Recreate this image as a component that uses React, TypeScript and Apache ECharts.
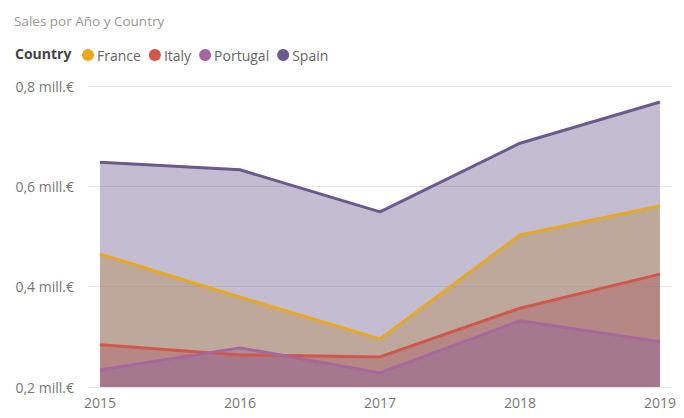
import React, { useEffect, useRef } from "react";
import * as echarts from "echarts";

const years = [2015, 2016, 2017, 2018, 2019];
const countries = ["France", "Italy", "Portugal", "Spain"];
const colors = ["#E8A820", "#D1574B", "#A8669E", "#6B5A8E"];
const france = [0.465, 0.379, 0.296, 0.503, 0.561];
const italy = [0.284, 0.264, 0.26, 0.357, 0.425];
const portugal = [0.234, 0.278, 0.228, 0.332, 0.29];
const spain = [0.648, 0.633, 0.549, 0.686, 0.768];
const seriesValues = [france, italy, portugal, spain];
const yTicks = [0.2, 0.4, 0.6, 0.8];

const FONT = "'Open Sans', 'Noto Sans', sans-serif";

export default function App() {
  const ref = useRef<HTMLDivElement>(null);
  useEffect(() => {
    if (!ref.current) return;
    const chart = echarts.init(ref.current, undefined, { renderer: "svg" });
    chart.setOption({
      animation: false,
      textStyle: { fontFamily: FONT },
      title: {
        text: "Sales por Año y Country",
        left: 9,
        top: 9,
        textStyle: { fontFamily: FONT, fontSize: 13.5, fontWeight: "normal", color: "#999999" },
      },
      graphic: [
        {
          type: "text",
          left: 15,
          top: 46,
          style: { text: "Country", fontFamily: FONT, fontSize: 14, fontWeight: "bold", fill: "#444444" },
        },
      ],
      legend: {
        left: 77,
        top: 43,
        icon: "circle",
        itemWidth: 12,
        itemHeight: 12,
        itemGap: 8,
        data: countries,
        textStyle: { fontFamily: FONT, fontSize: 14, color: "#666666", padding: [0, 0, 0, -2] },
      },
      grid: { left: 88, right: 12, top: 86, bottom: 31 },
      xAxis: {
        type: "value",
        min: 2015 - 12 / 139.5,
        max: 2019 + 12 / 139.5,
        splitLine: { show: false },
        axisLine: { show: false },
        axisTick: { show: false },
        axisLabel: {
          customValues: years,
          color: "#777777",
          fontSize: 14,
          fontFamily: FONT,
          margin: 8,
          formatter: (v: number) => String(Math.round(v)),
        },
      },
      yAxis: {
        type: "value",
        min: yTicks[0],
        max: yTicks[yTicks.length - 1],
        interval: 0.2,
        splitLine: { lineStyle: { color: "#E8E8E8", width: 1 } },
        axisLine: { show: false },
        axisTick: { show: false },
        axisLabel: {
          color: "#777777",
          fontSize: 14,
          fontFamily: FONT,
          margin: 14,
          formatter: (v: number) => v.toFixed(1).replace(".", ",") + " mill.€",
        },
      },
      series: countries.map((name, i) => ({
        name,
        type: "line",
        data: years.map((y, j) => [y, seriesValues[i][j]]),
        showSymbol: false,
        symbol: "none",
        itemStyle: { color: colors[i] },
        lineStyle: { color: colors[i], width: 3 },
        areaStyle: { color: colors[i], opacity: 0.4, origin: "start" },
      })),
    });
    return () => chart.dispose();
  }, []);
  return <div ref={ref} style={{ width: 684, height: 418, position: "absolute", left: 0, top: 0 }} />;
}
